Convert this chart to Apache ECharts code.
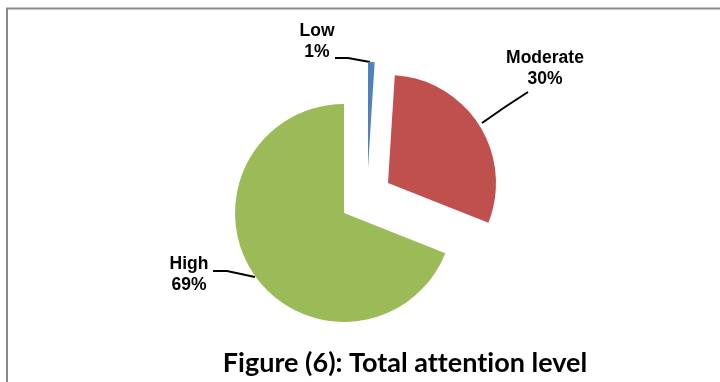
<!DOCTYPE html>
<html>
<head>
<meta charset="utf-8">
<style>
  html, body { margin: 0; padding: 0; background: #fff; }
  #chart { width: 720px; height: 382px; }
</style>
<script src="https://cdn.jsdelivr.net/npm/echarts@6/dist/echarts.min.js"></script>
</head>
<body>
<div id="chart"></div>
<script>
// data
var levels = ["Low", "Moderate", "High"];
var percents = [1, 30, 69];
var colors = ["#4f81bd", "#c0504d", "#9bbb59"];

// each slice is its own pie (exploded look), same data, one slice shown
var centers = [[368, 168], [388, 183], [344, 213]];
var radii = [106, 108, 109];
// label block centres + leader lines
var labelPos = [[317, 42], [545, 69], [189, 275]];
var linePts = [
  [[370, 62], [348, 58], [335, 58]],
  [[482, 123], [505, 107], [528, 92]],
  [[255, 277], [227, 271], [213, 271]]
];

var myChart = echarts.init(document.getElementById("chart"));

function buildSeries(k) {
  return {
    type: "pie",
    center: centers[k],
    radius: radii[k],
    startAngle: 90,
    clockwise: true,
    silent: true,
    animation: false,
    emphasis: { disabled: true },
    label: {
      show: true,
      position: "outside",
      formatter: "{b}\n{c}%",
      fontFamily: "Liberation Sans, Arial, sans-serif",
      fontWeight: "bold",
      fontSize: 17.5,
      lineHeight: 21,
      color: "#000"
    },
    labelLine: {
      show: true,
      lineStyle: { color: "#000", width: 2 }
    },
    labelLayout: function () {
      return {
        x: labelPos[k][0],
        y: labelPos[k][1],
        align: "center",
        verticalAlign: "middle",
        labelLinePoints: linePts[k]
      };
    },
    data: levels.map(function (name, i) {
      var on = i === k;
      return {
        name: name,
        value: percents[i],
        itemStyle: { color: on ? colors[i] : "rgba(0,0,0,0)" },
        label: { show: on },
        labelLine: { show: on }
      };
    })
  };
}

myChart.setOption({
  title: {
    // ZWNJ keeps Lato from drawing its "tt"/"ti" ligatures
    text: "Figure (6): Total at\u200Ctent\u200Cion level",
    left: 400,
    top: 345,
    textAlign: "center",
    textStyle: {
      fontFamily: "Lato",
      fontWeight: "bold",
      fontSize: 27,
      color: "#000"
    }
  },
  graphic: [{
    type: "rect",
    shape: { x: 7, y: 8.5, width: 760, height: 400 },
    style: { fill: "none", stroke: "#8a8a8a", lineWidth: 2 },
    silent: true
  }],
  series: [buildSeries(0), buildSeries(1), buildSeries(2)]
});
</script>
</body>
</html>
